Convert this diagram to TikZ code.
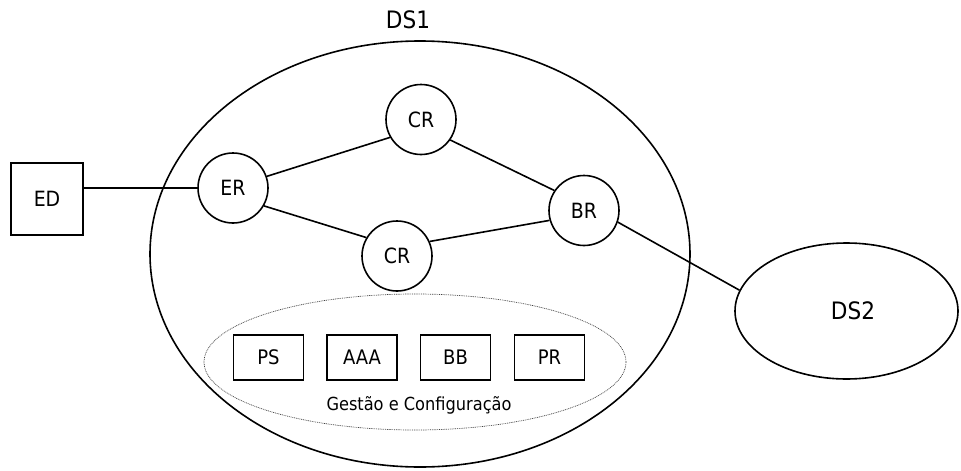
\documentclass[tikz,border=0pt]{standalone}
\usepackage{fontspec}
\setmainfont[FakeStretch=0.9]{DejaVu Sans}
\usetikzlibrary{shapes.geometric}
\begin{document}
\begin{tikzpicture}[x=1pt,y=-1pt,line width=1.6pt,
  router/.style={draw,circle,minimum size=70pt,inner sep=0pt,font=\fontsize{21}{24}\selectfont},
  svc/.style={draw,rectangle,minimum width=70pt,minimum height=45pt,inner sep=0pt,font=\fontsize{20}{23}\selectfont},
  dsellipse/.style={draw,ellipse,inner sep=0pt},
  dslabel/.style={anchor=base,inner sep=0pt,font=\fontsize{24}{28}\selectfont},
  gclabel/.style={anchor=base,inner sep=0pt,font=\fontsize{18}{21}\selectfont},
  link/.style={draw,line width=1.6pt}]
\useasboundingbox (0,0) rectangle (961,471);
% domain DS1
\node[dsellipse,minimum width=540pt,minimum height=426pt] (DS1) at (420,254) {};
\node[dslabel] (DS1lbl) at (408,28) {DS1};
% management ellipse
\node[dsellipse,minimum width=422pt,minimum height=136pt,line width=0.7pt,draw=black!75,dash pattern=on 0.9pt off 0.9pt] (GC) at (415,362) {};
\node[gclabel] (GClbl) at (419,410) {Gestão e Configuração};
\node[svc] (PS) at (268.5,357.5) {PS};
\node[svc] (AAA) at (362,357.5) {AAA};
\node[svc] (BB) at (455.5,357.5) {BB};
\node[svc] (PR) at (549.5,357.5) {PR};
% routers
\node[router] (ER) at (233,188) {ER};
\node[router] (CRt) at (421,119.5) {CR};
\node[router] (CRb) at (397,256) {CR};
\node[router] (BR) at (584,210.5) {BR};
% edge device
\node[draw,rectangle,minimum width=72pt,minimum height=72pt,inner sep=0pt,font=\fontsize{21}{24}\selectfont] (ED) at (47,199) {ED};
% domain DS2
\node[dsellipse,minimum width=223pt,minimum height=136pt] (DS2) at (846.5,311) {};
\node[dslabel] (DS2lbl) at (853,319.3) {DS2};
% links
\draw[link] (ER.west) -- (ER.west -| ED.east);
\draw[link] (ER.19) -- (CRt.210);
\draw[link] (ER.-30) -- (CRb.149);
\draw[link] (CRt.-35) -- (BR.146);
\draw[link] (CRb.24) -- (BR.196);
\draw[link] (BR.-19) -- (DS2.169);
\end{tikzpicture}
\end{document}
